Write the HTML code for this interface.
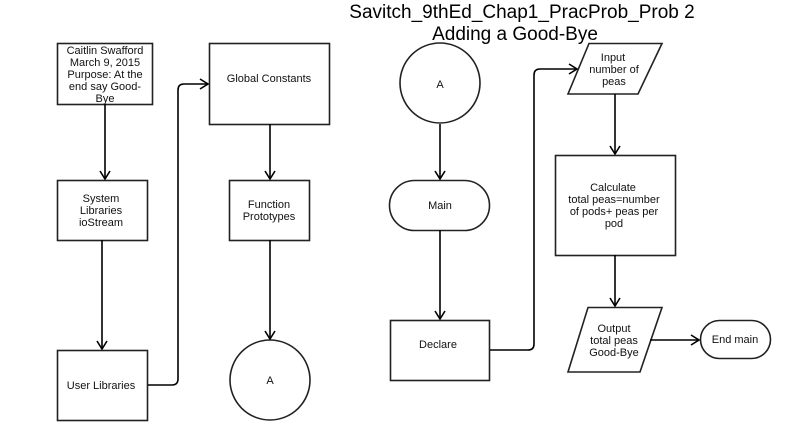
<!DOCTYPE html>
<html><head><meta charset="utf-8"><style>
html,body{margin:0;padding:0;background:#fff;}
svg{display:block;font-family:"Liberation Sans",Arial,sans-serif;}
</style></head><body>
<svg width="796" height="440" viewBox="0 0 796 440" xmlns="http://www.w3.org/2000/svg">
<defs><marker id="a" markerWidth="12" markerHeight="12" refX="10" refY="6" orient="auto" markerUnits="userSpaceOnUse"><path d="M2,1 L10,6 L2,11" fill="none" stroke="#000" stroke-width="1.6"/></marker></defs>
<g fill="none" stroke="#222" stroke-width="1.6">
<rect x="57.5" y="43.5" width="95" height="61"/>
<rect x="57.5" y="180.5" width="90" height="60"/>
<rect x="57.5" y="350.5" width="90" height="70"/>
<rect x="209.5" y="43.5" width="120" height="81"/>
<rect x="229.5" y="180.5" width="80" height="60"/>
<circle cx="270" cy="380" r="40"/>
<circle cx="440" cy="83" r="40"/>
<rect x="389.5" y="180.5" width="100" height="50" rx="25"/>
<rect x="390.5" y="320.5" width="99" height="60"/>
<polygon points="589,43.5 662,43.5 638,94 568,94"/>
<rect x="555.5" y="155.5" width="120" height="100"/>
<polygon points="588,307.5 662,307.5 640,372 568,372"/>
<rect x="700.5" y="320.5" width="70" height="38" rx="19"/>
</g>
<g fill="none" stroke="#000" stroke-width="1.6" marker-end="url(#a)">
<path d="M105,104 V179"/>
<path d="M102,240 V349"/>
<path d="M148,385 H172 Q178,385 178,379 V90 Q178,84 184,84 H208"/>
<path d="M270,124 V179"/>
<path d="M270,240 V339"/>
<path d="M440,124 V179"/>
<path d="M440,230 V319"/>
<path d="M490,350 H528 Q534,350 534,344 V75 Q534,69 540,69 H577"/>
<path d="M615,94 V154"/>
<path d="M615,255 V306"/>
<path d="M650,340 H699"/>
</g>
<g font-size="11" fill="#111" text-anchor="middle">
<text x="105" y="54">Caitlin Swafford</text>
<text x="105" y="66">March 9, 2015</text>
<text x="105" y="78">Purpose: At the</text>
<text x="105" y="90">end say Good-</text>
<text x="105" y="102">Bye</text>
<text x="101" y="202">System</text>
<text x="101" y="214">Libraries</text>
<text x="101" y="226">ioStream</text>
<text x="101" y="389">User Libraries</text>
<text x="269" y="82">Global Constants</text>
<text x="269" y="208">Function</text>
<text x="269" y="220">Prototypes</text>
<text x="270" y="384">A</text>
<text x="440" y="88">A</text>
<text x="440" y="209">Main</text>
<text x="438" y="348">Declare</text>
<text x="613" y="61">Input</text>
<text x="614" y="73">number of</text>
<text x="614" y="85">peas</text>
<text x="613" y="191">Calculate</text>
<text x="614" y="203">total peas=number</text>
<text x="614" y="215">of pods+ peas per</text>
<text x="614" y="227">pod</text>
<text x="614" y="332">Output</text>
<text x="614" y="344">total peas</text>
<text x="614" y="356">Good-Bye</text>
<text x="735" y="343">End main</text>
</g>
<g font-size="19" fill="#000" text-anchor="middle">
<text x="522" y="18">Savitch_9thEd_Chap1_PracProb_Prob 2</text>
<text x="515" y="40">Adding a Good-Bye</text>
</g>
</svg>
</body></html>
